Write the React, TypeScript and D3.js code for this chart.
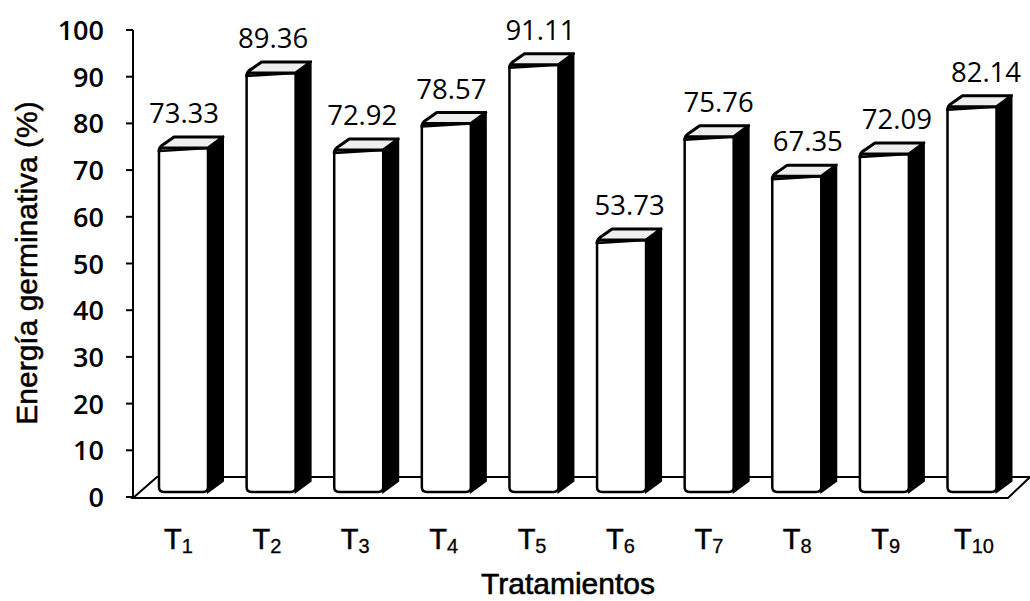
import React from "react";
import * as d3 from "d3";

const categories = ["1", "2", "3", "4", "5", "6", "7", "8", "9", "10"];
const values = [73.33, 89.36, 72.92, 78.57, 91.11, 53.73, 75.76, 67.35, 72.09, 82.14];
const valueLabels = ["73.33", "89.36", "72.92", "78.57", "91.11", "53.73", "75.76", "67.35", "72.09", "82.14"];
const yTicks = [0, 10, 20, 30, 40, 50, 60, 70, 80, 90, 100];

const W = 1030;
const H = 601;

export default function App() {
  const yAxis = d3.scaleLinear().domain([0, 100]).range([497, 30]);
  const yBar = d3.scaleLinear().domain([0, 100]).range([492, 23]);
  const xBar = d3.scalePoint<string>().domain(categories).range([183.5, 972]);
  const xVal = d3.scalePoint<string>().domain(categories).range([184, 986]);
  const xTick = d3.scalePoint<string>().domain(categories).range([178.5, 974]);

  const bw = 49;
  const dx = 15;
  const dy = 11;
  const axisX = 133;
  const floorFront = 498;
  const floorBack = 477;

  return (
    <svg
      width={W}
      height={H}
      style={{ position: "absolute", left: 0, top: 0, background: "#fff" }}
    >
      <rect x={0} y={0} width={W} height={H} fill="#fff" />
      {/* floor */}
      <path
        d={`M${axisX},${floorFront} L1008,${floorFront} L1030,${floorBack} L157,${floorBack} Z`}
        fill="#fff"
        stroke="#000"
        strokeWidth={2}
      />
      {/* y axis */}
      <line x1={axisX} x2={axisX} y1={yAxis(100)} y2={floorFront} stroke="#000" strokeWidth={2} />
      {yTicks.map((t) => (
        <g key={t}>
          <line x1={axisX - 7} x2={axisX} y1={yAxis(t)} y2={yAxis(t)} stroke="#000" strokeWidth={2} />
          <text
            x={104}
            y={yAxis(t) + 10}
            textAnchor="end"
            fontFamily="'Open Sans', sans-serif"
            fontWeight={600}
            fontSize={27}
            fill="#000"
          >
            {t}
          </text>
        </g>
      ))}
      {/* bars */}
      {categories.map((c, i) => {
        const cx = xBar(c) as number;
        const x0 = cx - bw / 2;
        const x1 = cx + bw / 2;
        const yt = yBar(values[i]);
        const yb = yBar(0);
        const r = 5;
        return (
          <g key={c}>
            <path
              d={`M${x1},${yt} L${x1 + dx},${yt - dy} L${x1 + dx},${yb - dy} L${x1},${yb} Z`}
              fill="#000"
              stroke="#000"
              strokeWidth={2}
            />
            <path
              d={`M${x0},${yt + 3} L${x0},${yb - r} Q${x0},${yb} ${x0 + r},${yb} L${x1 - r},${yb} Q${x1},${yb} ${x1},${yb - r} L${x1},${yt} Z`}
              fill="#fff"
              stroke="#000"
              strokeWidth={2.5}
            />
            <path
              d={`M${x0},${yt + 3} Q${x0},${yt - 1} ${x0 + 5},${yt - 4} L${x0 + dx},${yt - dy} L${x1 + dx},${yt - dy} L${x1},${yt} L${x0 + 2},${yt} Z`}
              fill="#eeeeee"
              stroke="#000"
              strokeWidth={3}
              strokeLinejoin="round"
            />
            <text
              x={xVal(c) as number}
              y={yt - 25}
              textAnchor="middle"
              fontFamily="'Open Sans', sans-serif"
              fontSize={27.5}
              fill="#000"
            >
              {valueLabels[i]}
            </text>
            <text
              x={xTick(c) as number}
              y={549}
              textAnchor="middle"
              fontFamily="'Liberation Sans', Arial, sans-serif"
              fontSize={29}
              fill="#000"
              stroke="#000"
              strokeWidth={0.5}
            >
              T
              <tspan fontSize={20} dy={4} strokeWidth={0.3}>
                {c}
              </tspan>
            </text>
          </g>
        );
      })}
      {/* axis titles */}
      <text
        x={568}
        y={594}
        textAnchor="middle"
        fontFamily="'Liberation Sans', Arial, sans-serif"
        fontSize={30}
        fill="#000"
        stroke="#000"
        strokeWidth={0.6}
      >
        Tratamientos
      </text>
      <text
        transform={`translate(37,263) rotate(-90)`}
        textAnchor="middle"
        fontFamily="'Liberation Sans', Arial, sans-serif"
        fontSize={30}
        fill="#000"
        stroke="#000"
        strokeWidth={0.5}
      >
        Energía germinativa (%)
      </text>
    </svg>
  );
}
